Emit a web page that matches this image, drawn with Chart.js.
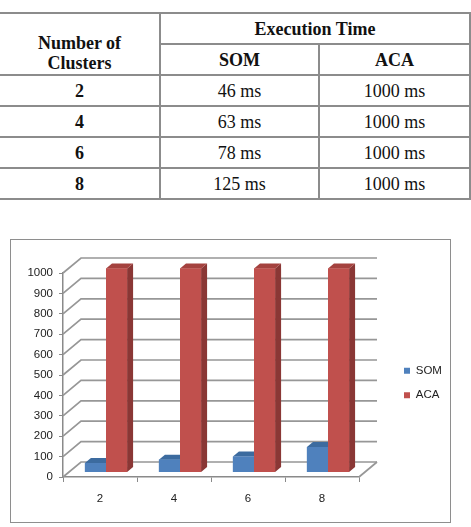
<!DOCTYPE html>
<html>
<head>
<meta charset="utf-8">
<script src="https://cdn.jsdelivr.net/npm/chart.js@4"></script>
<style>
  body { margin: 0; background: #fff; }
  #tbl {
    position: absolute; left: -2px; top: 12px; width: 471px;
    border-collapse: collapse; table-layout: fixed;
    font-family: 'Liberation Serif', 'Times New Roman', serif; font-size: 18px; color: #111;
  }
  #tbl td, #tbl th {
    border: 2px solid #8c8c8c; height: 29px; padding: 0; text-align: center; line-height: 20px;
  }
  #tbl td { font-weight: normal; }
  #tbl th.head { padding-top: 18px; height: 42px; }
  #box {
    position: absolute; left: 10px; top: 239px; width: 441px; height: 284px;
    border: 1px solid #8e8e8e; box-sizing: border-box;
  }
  #chart { display: block; }
</style>
</head>
<body>
<table id="tbl">
  <colgroup><col style="width:161px"><col style="width:159px"><col style="width:151px"></colgroup>
  <tbody id="tbody">
    <tr><th rowspan="2" class="head">Number of<br>Clusters</th><th colspan="2">Execution Time</th></tr>
    <tr><th>SOM</th><th>ACA</th></tr>
  </tbody>
</table>
<div id="box"><canvas id="chart" width="439" height="282"></canvas></div>
<script>
const clusters = ["2", "4", "6", "8"];
const somTimes = [46, 63, 78, 125];
const acaTimes = [1000, 1000, 1000, 1000];
const yTicks = { min: 0, max: 1000, step: 100 };

// table rows from the same arrays
const tbody = document.getElementById("tbody");
clusters.forEach((c, i) => {
  const tr = document.createElement("tr");
  tr.innerHTML = "<th>" + c + "</th><td>" + somTimes[i] + " ms</td><td>" + acaTimes[i] + " ms</td>";
  tbody.appendChild(tr);
});

// 3d look: back wall offset and bar depth
const WALL_DX = 18, WALL_DY = -15;
const BAR_DX = 6, BAR_DY = -4.5;
const DEPTH_DX = 6, DEPTH_DY = -5;

const faces = {
  SOM: { top: "#3c6b9f", side: "#375f8e" },
  ACA: { top: "#a4423f", side: "#8a3735" },
};

const depth3d = {
  id: "depth3d",
  afterLayout(chart) {
    const lg = chart.legend;
    lg.left = 380; lg.right = 430;
    lg.top = 112; lg.bottom = 180;
  },
  beforeDatasetsDraw(chart) {
    const { ctx, chartArea: a, scales: { y } } = chart;
    ctx.save();
    ctx.strokeStyle = "#979797";
    ctx.lineWidth = 1.7;
    y.ticks.forEach((t) => {
      const py = y.getPixelForValue(t.value);
      ctx.beginPath();
      ctx.moveTo(a.left, py);
      ctx.lineTo(a.left + WALL_DX, py + WALL_DY);
      ctx.lineTo(a.right + WALL_DX, py + WALL_DY);
      ctx.stroke();
    });
    ctx.beginPath();
    ctx.moveTo(a.right, a.bottom);
    ctx.lineTo(a.right + WALL_DX, a.bottom + WALL_DY);
    ctx.stroke();
    ctx.restore();
    ctx.save();
    ctx.translate(BAR_DX, BAR_DY);
  },
  afterDatasetsDraw(chart) {
    const { ctx } = chart;
    const metas = chart.data.datasets.map((d, i) => chart.getDatasetMeta(i));
    for (let j = 0; j < clusters.length; j++) {
      metas.forEach((meta, i) => {
        const bar = meta.data[j];
        const { x, y, base, width } = bar.getProps(["x", "y", "base", "width"], true);
        const l = x - width / 2, r = x + width / 2;
        const f = faces[chart.data.datasets[i].label];
        ctx.fillStyle = f.side;
        ctx.beginPath();
        ctx.moveTo(r, y);
        ctx.lineTo(r + DEPTH_DX, y + DEPTH_DY);
        ctx.lineTo(r + DEPTH_DX, base + DEPTH_DY);
        ctx.lineTo(r, base);
        ctx.closePath();
        ctx.fill();
        ctx.fillStyle = f.top;
        ctx.beginPath();
        ctx.moveTo(l, y);
        ctx.lineTo(l + DEPTH_DX, y + DEPTH_DY);
        ctx.lineTo(r + DEPTH_DX, y + DEPTH_DY);
        ctx.lineTo(r, y);
        ctx.closePath();
        ctx.fill();
        bar.draw(ctx);
      });
    }
    ctx.restore();
  },
};

Chart.defaults.font.family = "'Liberation Sans', Arial, sans-serif";
Chart.defaults.color = "#222";

new Chart(document.getElementById("chart"), {
  type: "bar",
  data: {
    labels: clusters,
    datasets: [
      { label: "SOM", data: somTimes, backgroundColor: "#4f81bd", clip: false },
      { label: "ACA", data: acaTimes, backgroundColor: "#c0504d", clip: false },
    ],
  },
  options: {
    responsive: false,
    animation: false,
    categoryPercentage: 0.57,
    barPercentage: 1,
    layout: { padding: { left: 0, top: 33, right: 51, bottom: 0 } },
    plugins: {
      tooltip: { enabled: false },
      legend: {
        position: "right",
        align: "start",
        maxWidth: 40,
        labels: { boxWidth: 6, boxHeight: 6, padding: 13, font: { size: 11.5 } },
      },
    },
    scales: {
      x: {
        afterFit: (s) => { s.height = 45; },
        grid: { drawOnChartArea: false, drawTicks: true, tickLength: 5, color: "#8a8a8a" },
        border: { display: true, color: "#8a8a8a", width: 1.5 },
        ticks: { padding: 10, font: { size: 11.5 } },
      },
      y: {
        min: yTicks.min,
        max: yTicks.max,
        afterFit: (s) => { s.width = 52; },
        grid: { drawOnChartArea: false, drawTicks: true, tickLength: 4, color: "#8a8a8a" },
        border: { display: true, color: "#8a8a8a", width: 1.5 },
        ticks: {
          stepSize: yTicks.step,
          padding: 6,
          font: { size: 11.5 },
          callback: (v) => String(v),
        },
      },
    },
  },
  plugins: [depth3d],
});
</script>
</body>
</html>
